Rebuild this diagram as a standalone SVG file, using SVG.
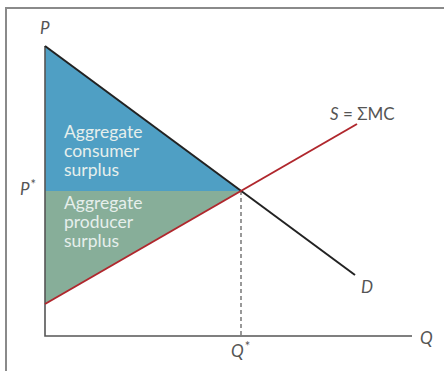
<svg xmlns="http://www.w3.org/2000/svg" width="444" height="371" viewBox="0 0 444 371">
<style>
.lbl{font-family:Lato,"Open Sans",sans-serif;font-size:17px;fill:#555;font-style:italic}
.area{font-family:Lato,"Open Sans",sans-serif;font-size:17.5px;fill:#e6efec}
.ax{stroke:#555;stroke-width:1.6;fill:none}
.star{font-size:13px;font-style:normal}
</style>
<rect x="0" y="0" width="444" height="371" fill="#fff"/>
<path d="M6 371 V8 H444" fill="none" stroke="#8a8a8a" stroke-width="2"/>
<g id="consumer-surplus">
<polygon points="45,46 45,191 241,191" fill="#4f9fc4"/>
<text class="area" x="64" y="138">Aggregate</text>
<text class="area" x="64" y="157">consumer</text>
<text class="area" x="64" y="176">surplus</text>
</g>
<g id="producer-surplus">
<polygon points="45,191 241,191 45,304" fill="#87ae99"/>
<text class="area" x="64" y="209">Aggregate</text>
<text class="area" x="64" y="228">producer</text>
<text class="area" x="64" y="247">surplus</text>
</g>
<g id="axes">
<path class="ax" d="M45 46 V336 H412"/>
<text class="lbl" x="40" y="34">P</text>
<text class="lbl" x="420" y="344">Q</text>
<text class="lbl" x="20" y="195">P<tspan class="star" dx="1" dy="-6">*</tspan></text>
<text class="lbl" x="231" y="357">Q<tspan class="star" dx="1" dy="-6">*</tspan></text>
</g>
<g id="connectors">
<line x1="241" y1="191" x2="241" y2="336" stroke="#555" stroke-width="1.2" stroke-dasharray="4,3"/>
<line id="demand" x1="45" y1="46" x2="355" y2="275" stroke="#222" stroke-width="2"/>
<line id="supply" x1="45" y1="304" x2="357" y2="124" stroke="#b0272d" stroke-width="2"/>
</g>
<g id="demand-label"><text class="lbl" x="361" y="293">D</text></g>
<g id="supply-label"><text class="lbl" x="330" y="120">S<tspan font-style="normal"> = ΣMC</tspan></text></g>
</svg>
